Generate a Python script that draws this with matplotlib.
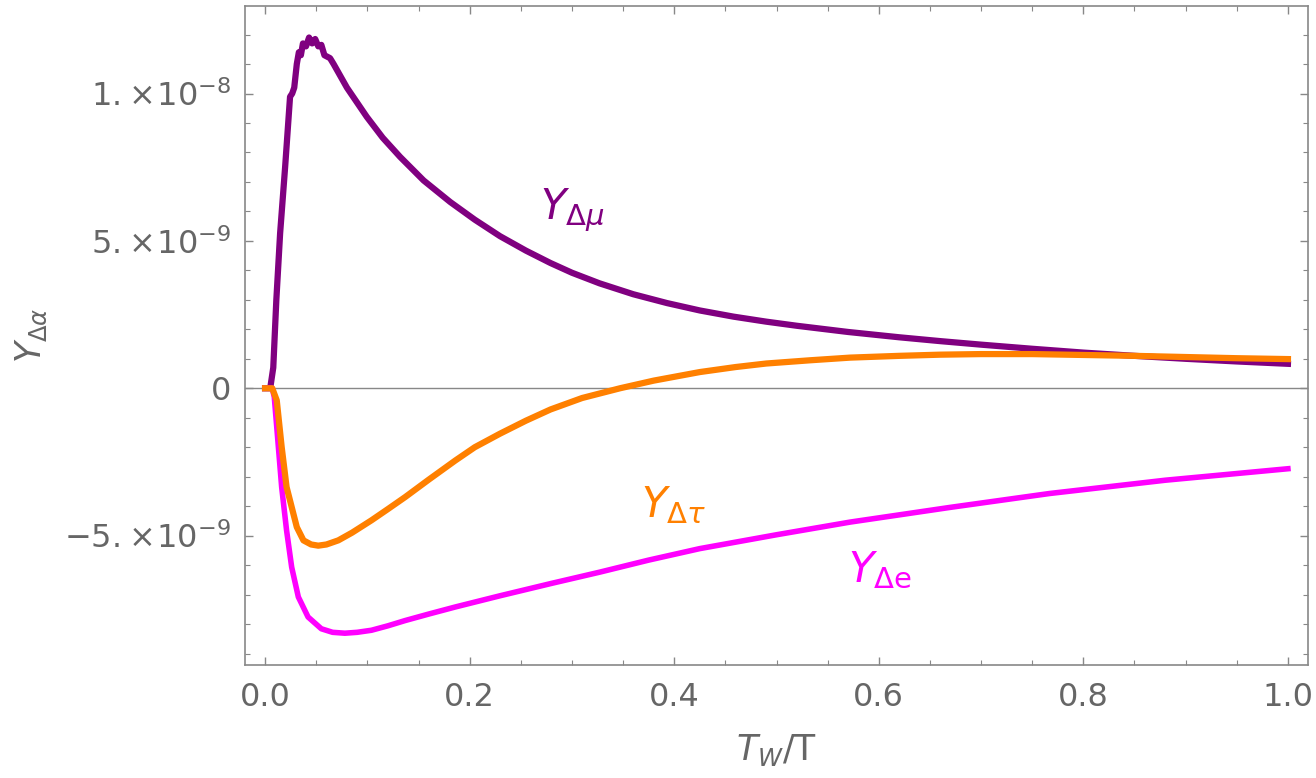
import matplotlib

matplotlib.use("Agg")
import matplotlib.pyplot as plt
from matplotlib.ticker import FixedLocator, MultipleLocator, FuncFormatter

# values (x = T_W/T, y = Y_{Delta alpha})
x_mu = [0.0, 0.005, 0.008, 0.011, 0.0147, 0.0196, 0.0244, 0.0265, 0.0285, 0.031, 0.033,
        0.035, 0.037, 0.040, 0.043, 0.046, 0.049, 0.052, 0.055, 0.058, 0.0635, 0.067,
        0.08, 0.0994, 0.115, 0.132, 0.155, 0.181, 0.205, 0.2297, 0.255, 0.279, 0.30,
        0.327, 0.36, 0.393, 0.425, 0.458, 0.49, 0.52, 0.57, 0.62, 0.66, 0.70, 0.75,
        0.80, 0.85, 0.90, 0.95, 1.0]
y_mu = [0.0, 0.0, 0.7e-9, 3.0e-9, 5.26e-9, 7.51e-9, 9.89e-9, 1.0e-8, 1.02e-8, 1.10e-8, 1.14e-8,
        1.13e-8, 1.17e-8, 1.16e-8, 1.19e-8, 1.17e-8, 1.185e-8, 1.16e-8, 1.165e-8, 1.13e-8, 1.12e-8, 1.10e-8,
        1.02e-8, 9.21e-9, 8.5e-9, 7.85e-9, 7.05e-9, 6.32e-9, 5.72e-9, 5.16e-9, 4.67e-9, 4.25e-9, 3.92e-9,
        3.56e-9, 3.19e-9, 2.89e-9, 2.64e-9, 2.43e-9, 2.26e-9, 2.12e-9, 1.91e-9, 1.73e-9, 1.60e-9, 1.48e-9, 1.34e-9,
        1.21e-9, 1.10e-9, 1.00e-9, 0.91e-9, 0.83e-9]

x_tau = [0.0, 0.007, 0.0114, 0.0162, 0.021, 0.026, 0.031, 0.0375, 0.045, 0.052, 0.06,
         0.0716, 0.085, 0.104, 0.12, 0.137, 0.16, 0.186, 0.205, 0.2297, 0.255, 0.279,
         0.31, 0.347, 0.38, 0.425, 0.46, 0.49, 0.533, 0.572, 0.62, 0.66, 0.70, 0.75,
         0.80, 0.85, 0.90, 0.95, 1.0]
y_tau = [0.0, 0.0, -0.41e-9, -1.99e-9, -3.35e-9, -4.03e-9, -4.71e-9, -5.16e-9, -5.30e-9, -5.34e-9, -5.30e-9,
         -5.16e-9, -4.90e-9, -4.48e-9, -4.10e-9, -3.69e-9, -3.10e-9, -2.45e-9, -2.00e-9, -1.54e-9, -1.10e-9, -0.72e-9,
         -0.33e-9, 0.0, 0.26e-9, 0.55e-9, 0.72e-9, 0.84e-9, 0.95e-9, 1.04e-9, 1.10e-9, 1.14e-9, 1.16e-9, 1.16e-9,
         1.13e-9, 1.10e-9, 1.06e-9, 1.02e-9, 0.99e-9]

x_e = [0.0, 0.007, 0.009, 0.013, 0.0162, 0.021, 0.026, 0.0325, 0.042, 0.055, 0.066,
       0.078, 0.09, 0.104, 0.12, 0.137, 0.16, 0.186, 0.2297, 0.28, 0.327, 0.375,
       0.425, 0.50, 0.572, 0.67, 0.767, 0.88, 1.0]
y_e = [0.0, 0.0, -0.3e-9, -1.99e-9, -3.35e-9, -4.82e-9, -6.07e-9, -7.08e-9, -7.76e-9, -8.16e-9, -8.28e-9,
       -8.31e-9, -8.28e-9, -8.21e-9, -8.06e-9, -7.88e-9, -7.66e-9, -7.42e-9, -7.04e-9, -6.62e-9, -6.24e-9, -5.83e-9,
       -5.44e-9, -4.97e-9, -4.54e-9, -4.04e-9, -3.57e-9, -3.12e-9, -2.73e-9]

y_major = [-5e-9, 0.0, 5e-9, 1e-8]
y_labels = [r"$-5.\!\times\!10^{-9}$", "0", r"$5.\!\times\!10^{-9}$", r"$1.\!\times\!10^{-8}$"]

PURPLE = "#800080"
ORANGE = "#ff8000"
MAGENTA = "#ff00ff"
GRAY = "#666666"

plt.rcParams["mathtext.fontset"] = "dejavusans"
plt.rcParams["font.family"] = ["DejaVu Sans"]

fig = plt.figure(figsize=(13.16, 7.78), dpi=100)
ax = fig.add_axes([0.1862, 0.1452, 0.8077, 0.8471])

ax.axhline(0, color="#888888", lw=1.0, zorder=1)
ax.plot(x_mu, y_mu, color=PURPLE, lw=4.5, solid_joinstyle="round", zorder=3)
ax.plot(x_e, y_e, color=MAGENTA, lw=4.0, solid_joinstyle="round", zorder=4)
ax.plot(x_tau, y_tau, color=ORANGE, lw=4.5, solid_joinstyle="round", zorder=5)

ax.set_xlim(-0.0196, 1.0196)
ax.set_ylim(-9.39e-9, 1.297e-8)

ax.xaxis.set_major_locator(MultipleLocator(0.2))
ax.xaxis.set_minor_locator(MultipleLocator(0.05))
ax.xaxis.set_major_formatter(FuncFormatter(lambda v, p: f"{v:.1f}"))
ax.yaxis.set_major_locator(FixedLocator(y_major))
ax.yaxis.set_minor_locator(MultipleLocator(1e-9))
ax.set_yticklabels(y_labels)

ax.tick_params(which="both", direction="in", top=True, right=True, color="#888888",
               labelcolor=GRAY, labelsize=23)
ax.tick_params(which="major", length=6, width=1.0)
ax.tick_params(which="minor", length=3.5, width=0.8)
ax.tick_params(axis="x", pad=12)
ax.tick_params(axis="y", pad=10)
for sp in ax.spines.values():
    sp.set_color("#888888")
    sp.set_linewidth(1.2)

ax.set_xlabel(r"$T_W/\mathrm{T}$", color=GRAY, fontsize=25, labelpad=14)
ax.set_ylabel(r"$Y_{\Delta\alpha}$", color=GRAY, fontsize=25, labelpad=11)

ax.text(0.300, 6.04e-9, r"$Y_{\Delta\mu}$", color=PURPLE, fontsize=30, ha="center", va="center")
ax.text(0.399, -3.97e-9, r"$Y_{\Delta\tau}$", color=ORANGE, fontsize=30, ha="center", va="center")
ax.text(0.601, -6.18e-9, r"$Y_{\Delta\mathrm{e}}$", color=MAGENTA, fontsize=30, ha="center", va="center")

fig.savefig("out.png", dpi=100)
